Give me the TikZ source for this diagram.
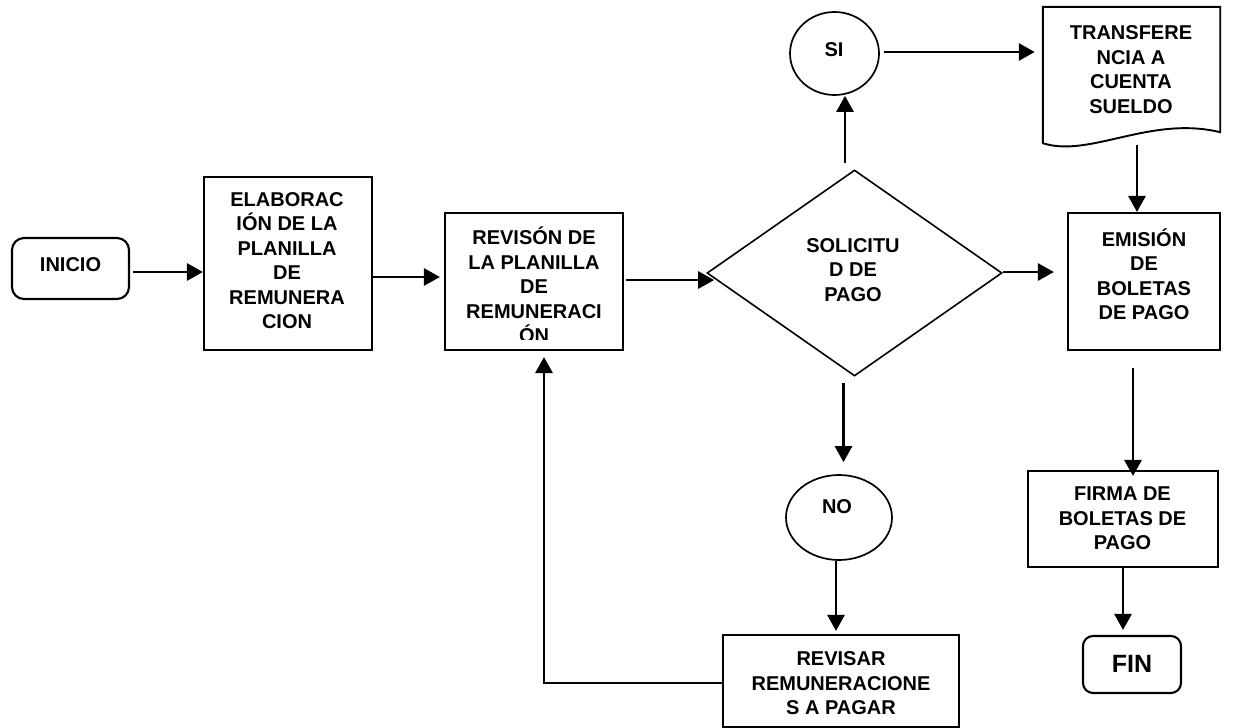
\documentclass[tikz,border=0pt]{standalone}
\usepackage{fontspec}
\setmainfont{Liberation Sans}
\usetikzlibrary{arrows.meta,shapes.geometric,calc}
\tikzset{
  lbl/.style={font=\bfseries\fontsize{20}{24.5}\selectfont, align=center, inner sep=0pt},
  box/.style={draw, line width=2.1pt, fill=white, inner sep=0pt},
  term/.style={box, rounded corners=12pt},
  oval/.style={draw, ellipse, line width=1.7pt, fill=white, inner sep=0pt},
  dec/.style={draw, diamond, line width=1.6pt, fill=white, inner sep=0pt},
  arr/.style={line width=2.8pt, -{Triangle[length=16pt,width=17pt]}},
}
\begin{document}
\begin{tikzpicture}[x=1pt,y=-1pt]
\useasboundingbox (0,0) rectangle (1240,728);

% shapes
\node[term, minimum width=117pt, minimum height=61pt] (inicio) at (70.5,268.5) {};
\node[box, minimum width=168pt, minimum height=173pt] (elab) at (288,263.5) {};
\node[box, minimum width=178pt, minimum height=137pt] (rev) at (534,281.5) {};
\node[dec, minimum width=295pt, minimum height=206pt] (sol) at (854.5,273) {};
\node[oval, minimum width=89pt, minimum height=83pt] (si) at (834.5,53.5) {};
\node[oval, minimum width=106pt, minimum height=85pt] (no) at (839,517.5) {};
\node[inner sep=0pt, minimum width=177pt, minimum height=136pt] (trans) at (1131.5,75) {};
\node[box, minimum width=152pt, minimum height=137pt] (emi) at (1144,281.5) {};
\node[box, minimum width=190pt, minimum height=96pt] (firma) at (1123,519) {};
\node[term, rounded corners=10pt, minimum width=98pt, minimum height=57pt] (fin) at (1132,664.5) {};
\node[box, minimum width=236pt, minimum height=92pt] (revisar) at (841,681) {};

% document shape with wavy lower edge
\draw[line width=1.9pt, fill=white] (trans.north west) -- (trans.north east)
  -- ([yshift=11pt]trans.south east)
  .. controls ($(trans.south east)+(-70,-28)$) and ($(trans.south west)+(47,15)$) .. (trans.south west)
  -- cycle;

% labels
\node[lbl] (inicio-t) at (70.5,265) {INICIO};
\node[lbl] (elab-t) at (287,260.5) {ELABORAC\\IÓN DE LA\\PLANILLA\\DE\\REMUNERA\\CION};
\begin{scope}
  \clip ([yshift=12pt]rev.south west) rectangle (rev.north east);
  \node[lbl] (rev-t) at (534,285) {REVISÓN DE\\LA PLANILLA\\DE\\REMUNERACI\\ÓN};
\end{scope}
\node[lbl] (sol-t) at (853,270) {SOLICITU\\D DE\\PAGO};
\node[lbl] (si-t) at (834,50) {SI};
\node[lbl] (no-t) at (837,507) {NO};
\node[lbl] (trans-t) at (1131,69.5) {TRANSFERE\\NCIA A\\CUENTA\\SUELDO};
\node[lbl] (emi-t) at (1144,274) {EMISIÓN\\DE\\BOLETAS\\DE PAGO};
\node[lbl] (firma-t) at (1122.5,518.5) {FIRMA DE\\BOLETAS DE\\PAGO};
\node[lbl, font=\bfseries\fontsize{25}{30}\selectfont] (fin-t) at (1132,664) {FIN};
\node[lbl] (revisar-t) at (841,683.5) {REVISAR\\REMUNERACIONE\\S A PAGAR};

% connectors
\draw[arr, shorten <=3pt] ([yshift=-3.5pt]inicio.east) -- ([yshift=-3.5pt]inicio.east -| elab.west);
\draw[arr, shorten >=4pt] ([yshift=-13.5pt]elab.east) -- ([yshift=-13.5pt]elab.east -| rev.west);
\draw[arr, shorten <=2pt, shorten >=-8pt] ([yshift=1.5pt]rev.east) -- ([yshift=1.5pt]rev.east -| sol.west);
\draw[arr, shorten <=6pt] ([xshift=-9.5pt]sol.north) -- ([xshift=-9.5pt]sol.north |- si.south);
\draw[arr, shorten <=4pt, shorten >=8pt] ([yshift=1.5pt]si.east) -- ([yshift=1.5pt]si.east -| trans.west);
\draw[arr, shorten <=2pt] ([xshift=5.5pt]trans.south) -- ([xshift=5.5pt]trans.south |- emi.north);
\draw[arr, shorten >=13pt] ([yshift=1pt]sol.east) -- ([yshift=1pt]sol.east -| emi.west);
\draw[arr, shorten <=17pt, shorten >=-6pt] ([xshift=-11pt]emi.south) -- ([xshift=-11pt]emi.south |- firma.north);
\draw[arr, shorten >=5pt] (firma.south) -- (firma.south |- fin.north);
\draw[arr, shorten <=6pt, shorten >=12pt] ([xshift=-11pt]sol.south) -- ([xshift=-11pt]sol.south |- no.north);
\draw[arr, shorten >=3pt] ([xshift=-3pt]no.south) -- ([xshift=-3pt]no.south |- revisar.north);
\draw[arr, shorten >=6pt] ([yshift=-2pt]revisar.west) -| ([xshift=10pt]rev.south);
\end{tikzpicture}
\end{document}
